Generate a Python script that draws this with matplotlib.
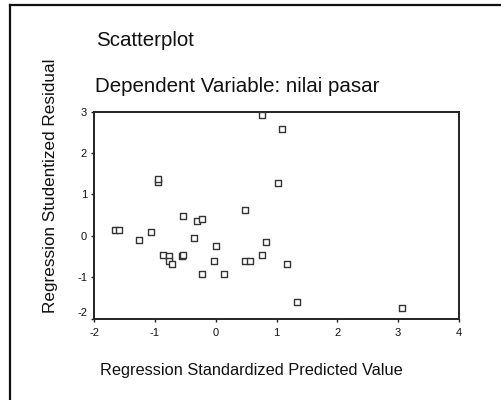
import matplotlib
matplotlib.use("Agg")
import matplotlib.pyplot as plt
from matplotlib.lines import Line2D

plt.rcParams["font.family"] = ["Liberation Sans", "DejaVu Sans"]

# standardized predicted value vs studentized residual
pred = [0.76, 1.09, -0.95, -0.95, 1.03, 0.49, -0.53, -0.30, -0.23, -1.66,
        -1.59, -1.07, -1.26, -0.35, 0.01, 0.82, -0.86, -0.77, -0.77, -0.72,
        -0.56, -0.53, -0.02, 0.49, 0.56, 0.76, 1.18, -0.23, 0.13, 1.33, 3.06]
resid = [2.92, 2.59, 1.30, 1.38, 1.28, 0.63, 0.49, 0.36, 0.41, 0.13,
         0.13, 0.08, -0.10, -0.05, -0.24, -0.15, -0.46, -0.49, -0.61, -0.69,
         -0.49, -0.46, -0.61, -0.61, -0.61, -0.46, -0.69, -0.92, -0.92, -1.60, -1.75]
xticks = [-2, -1, 0, 1, 2, 3, 4]
yticks = [-2, -1, 0, 1, 2, 3]

W, H = 501, 400
fig = plt.figure(figsize=(5.01, 4.00), dpi=100)
fig.patch.set_facecolor("white")

# outer frame (left and top edges only visible)
fig.add_artist(Line2D([10 / W, 10 / W], [0, 1 - 5 / H], color="#111111", lw=1.6))
fig.add_artist(Line2D([10 / W, 1], [1 - 5 / H, 1 - 5 / H], color="#111111", lw=1.6))

ax = fig.add_axes([94 / W, 1 - 318.5 / H, (459 - 94) / W, (318.5 - 111.7) / H])
ax.scatter(pred, resid, marker="s", s=14, facecolors="white",
           edgecolors="#333333", linewidths=1.0, zorder=3)

ax.set_xlim(-2, 4)
ax.set_ylim(-2, 3)
ax.set_xticks(xticks)
ax.set_yticks(yticks)
ax.set_xticklabels([str(t) for t in xticks])
ax.set_yticklabels([str(t) for t in yticks])
ax.tick_params(direction="out", length=2, width=1, color="#222222",
               labelsize=8, labelcolor="#111111")
ax.tick_params(axis="x", pad=5)
ax.tick_params(axis="y", pad=3)
ax.get_yticklabels()[0].set_va("bottom")
for sp in ax.spines.values():
    sp.set_linewidth(1.4)
    sp.set_color("#222222")

fig.text(96 / W, 1 - 41 / H, "Scatterplot", fontsize=14.8,
         ha="left", va="center", color="#111111")
fig.text(95 / W, 1 - 86 / H, "Dependent Variable: nilai pasar", fontsize=14.8,
         ha="left", va="center", color="#111111")
fig.text(251 / W, 1 - 370 / H, "Regression Standardized Predicted Value",
         fontsize=11.8, ha="center", va="center", color="#111111")
fig.text(51 / W, 1 - 186 / H, "Regression Studentized Residual",
         fontsize=12.3, ha="center", va="center", rotation=90, color="#111111")

fig.savefig("out.png", dpi=100, facecolor="white")
